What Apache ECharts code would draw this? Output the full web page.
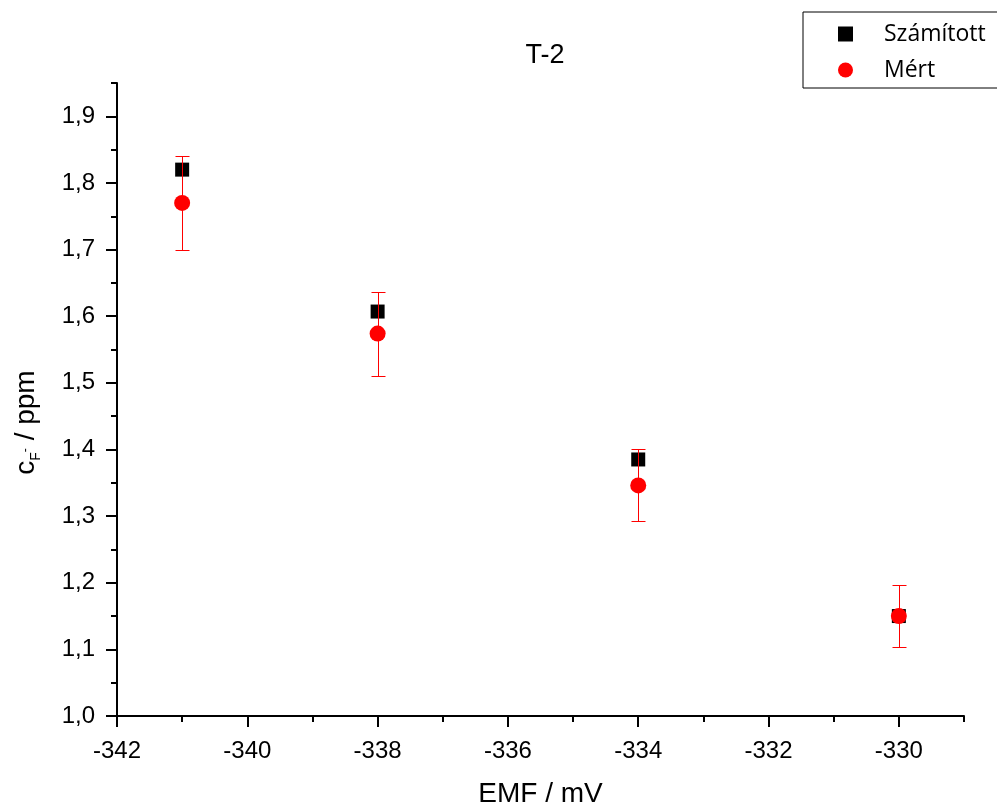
<!DOCTYPE html>
<html>
<head>
<meta charset="utf-8">
<script src="https://cdn.jsdelivr.net/npm/echarts@6/dist/echarts.min.js"></script>
<style>
html,body{margin:0;padding:0;background:#fff;}
#chart{width:997px;height:811px;}
</style>
</head>
<body>
<div id="chart"></div>
<script>
// Data
const emf = [-341, -338, -334, -330];
const szamitott = [1.82, 1.607, 1.385, 1.15];
const mert = [1.77, 1.574, 1.346, 1.15];
const mertErr = [0.071, 0.063, 0.054, 0.047];
const xMajorTicks = [-342, -340, -338, -336, -334, -332, -330];
const yMajorTicks = [1.0, 1.1, 1.2, 1.3, 1.4, 1.5, 1.6, 1.7, 1.8, 1.9];

const font = 'Liberation Sans, Arial, sans-serif';
const chart = echarts.init(document.getElementById('chart'));

const axisLine = {show: true, onZero: false, lineStyle: {color: '#000', width: 2}};

chart.setOption({
  animation: false,
  backgroundColor: '#fff',
  title: {
    text: 'T-2', left: 540, top: 37, textAlign: 'center',
    textStyle: {fontFamily: font, fontSize: 27, fontWeight: 'normal', color: '#000'}
  },
  legend: {
    left: 803, top: 12, orient: 'vertical',
    borderColor: '#000', borderWidth: 1, borderRadius: 0,
    padding: [10, 10, 6, 35],
    itemWidth: 15, itemHeight: 15, itemGap: 12,
    textStyle: {fontFamily: 'Open Sans, sans-serif', fontSize: 23, color: '#000',
      width: 110, lineHeight: 24, padding: [0, 0, 0, 26]},
    data: [
      {name: 'Számított', icon: 'rect', itemStyle: {opacity: 1}},
      {name: 'Mért', icon: 'circle', itemStyle: {opacity: 1}}
    ]
  },
  grid: {left: 117, right: 33, top: 83, bottom: 95, containLabel: false, outerBoundsMode: 'none'},
  xAxis: [{
    type: 'value', min: -342, max: -329, interval: 1,
    axisLine: axisLine,
    axisTick: {show: true, inside: false, length: 6, lineStyle: {color: '#000', width: 2}},
    axisLabel: {
      margin: 23, color: '#000', fontFamily: font, fontSize: 24,
      formatter: v => (Math.round(v) % 2 === 0 ? String(v) : '')
    },
    splitLine: {show: false},
    name: 'EMF / mV', nameLocation: 'middle', nameGap: 64,
    nameTextStyle: {fontFamily: font, fontSize: 28, color: '#000'}
  }, {
    type: 'value', min: -342, max: -329, interval: 1, position: 'bottom', offset: 0,
    axisLine: {show: false},
    axisTick: {show: true, inside: false, length: 11, customValues: xMajorTicks, lineStyle: {color: '#000', width: 2}},
    axisLabel: {show: false},
    splitLine: {show: false}
  }],
  yAxis: [{
    type: 'value', min: 1.0, max: 1.95, interval: 0.05, position: 'left',
    axisLine: axisLine,
    axisTick: {show: true, inside: false, length: 6, lineStyle: {color: '#000', width: 2}},
    axisLabel: {
      margin: 22, color: '#000', fontFamily: font, fontSize: 24,
      formatter: v => {
        const t = v * 10;
        return Math.abs(t - Math.round(t)) < 1e-6 ? v.toFixed(1).replace('.', ',') : '';
      }
    },
    splitLine: {show: false},
    name: '{c|c}{sub|F}{sup|-}{c| / ppm}', nameLocation: 'middle', nameGap: 74, nameRotate: 90,
    nameTextStyle: {
      fontFamily: font, color: '#000', padding: [0, 46, 0, 0],
      rich: {
        c: {fontFamily: font, fontSize: 28, color: '#000', lineHeight: 34},
        sub: {fontFamily: font, fontSize: 14, color: '#000', verticalAlign: 'bottom', lineHeight: 14},
        sup: {fontFamily: font, fontSize: 12, color: '#000', verticalAlign: 'middle', lineHeight: 12}
      }
    }
  }, {
    type: 'value', min: 1.0, max: 1.95, interval: 0.05, position: 'left', offset: 0,
    axisLine: {show: false},
    axisTick: {show: true, inside: false, length: 11, customValues: yMajorTicks, lineStyle: {color: '#000', width: 2}},
    axisLabel: {show: false},
    splitLine: {show: false}
  }],
  series: [{
    name: 'Számított', type: 'scatter', xAxisIndex: 0, yAxisIndex: 0,
    symbol: 'rect', symbolSize: 14, z: 2,
    itemStyle: {color: '#000', opacity: 1},
    data: emf.map((x, i) => [x, szamitott[i]])
  }, {
    name: 'Mért hiba', type: 'custom', xAxisIndex: 0, yAxisIndex: 0, z: 3,
    encode: {x: 0, y: [1, 2]},
    renderItem: function (params, api) {
      const x = api.value(0);
      const pLo = api.coord([x, api.value(1)]);
      const pHi = api.coord([x, api.value(2)]);
      const cx = Math.round(pLo[0]) + 0.5;
      const yLo = Math.round(pLo[1]) + 0.5;
      const yHi = Math.round(pHi[1]) + 0.5;
      const w = 7;
      const st = {stroke: '#ff0000', lineWidth: 1};
      return {type: 'group', children: [
        {type: 'line', shape: {x1: cx, y1: yLo, x2: cx, y2: yHi}, style: st},
        {type: 'line', shape: {x1: cx - w, y1: yHi, x2: cx + w, y2: yHi}, style: st},
        {type: 'line', shape: {x1: cx - w, y1: yLo, x2: cx + w, y2: yLo}, style: st}
      ]};
    },
    data: emf.map((x, i) => [x, mert[i] - mertErr[i], mert[i] + mertErr[i]])
  }, {
    name: 'Mért', type: 'scatter', xAxisIndex: 0, yAxisIndex: 0,
    symbol: 'circle', symbolSize: 16, z: 4,
    itemStyle: {color: '#ff0000', opacity: 1},
    data: emf.map((x, i) => [x, mert[i]])
  }]
});
</script>
</body>
</html>
